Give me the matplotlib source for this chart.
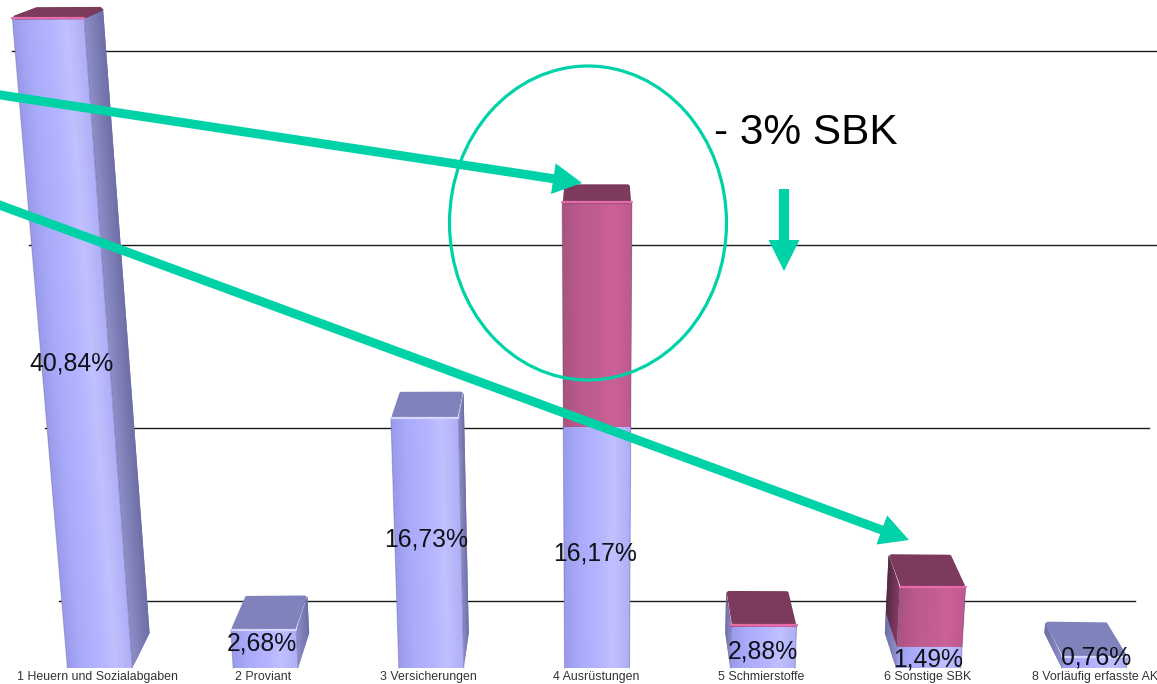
import numpy as np
import matplotlib
matplotlib.use("Agg")
import matplotlib.pyplot as plt
from matplotlib.collections import PolyCollection
from matplotlib.colors import LinearSegmentedColormap
from matplotlib.patches import Ellipse, Polygon

plt.rcParams['font.family'] = ['Liberation Sans', 'DejaVu Sans']

# data
categories = ["1 Heuern und Sozialabgaben", "2 Proviant", "3 Versicherungen", "4 Ausrüstungen",
              "5 Schmierstoffe", "6 Sonstige SBK", "8 Vorläufig erfasste AK"]
blue_values = [40.84, 2.68, 16.73, 16.17, 2.88, 1.49, 0.76]
red_values = [0.08, 0, 0, 13.6, 0.13, 4.05, 0]
value_labels = ["40,84%", "2,68%", "16,73%", "16,17%", "2,88%", "1,49%", "0,76%"]
grid_values = [4.61, 16.1, 27.2, 38.9]

# the chart is not linear, the value axis gets taller towards the top
SCALE_V = [-1.4, 0, 2.88, 16.17, 40.84, 44.0]
SCALE_H = [-20, 0, 41, 241, 649, 700]
WIDTH, HEIGHT = 1157, 684
BASE_Y = 668

# fake perspective of the 3d bars
VANISH_X = 597
SPACING = 165.7
BAR_W = 65
PERSP = 1.6e-4
SHRINK = 0.037
GRID_HALF = 532
CORNER = 3.0

TEAL = "#00D2A8"
blue_cmap = LinearSegmentedColormap.from_list("b", ["#9A9AEC", "#ABABFB", "#B2B2FF", "#C0C0FF", "#AEAEF6"])
red_cmap = LinearSegmentedColormap.from_list("r", ["#A85280", "#BA5A8B", "#C25D90", "#CC6096", "#BC5A8E"])
blue_side = LinearSegmentedColormap.from_list("bs", ["#8E8EC8", "#6E6EA6"])
red_side = LinearSegmentedColormap.from_list("rs", ["#8A3A62", "#4E2A44"])


def to_h(v):
    return np.interp(v, SCALE_V, SCALE_H)


def to_v(h):
    return np.interp(h, SCALE_H, SCALE_V)


def persp_x(x, h):
    return VANISH_X + (x - VANISH_X) * (1 + PERSP * h)


def back_point(x, h):
    depth = 35 - 0.04 * h
    return VANISH_X + (x - VANISH_X) * (1 - SHRINK), h + depth


def strips(ax, p0, p1, p2, p3, cmap, n=28, zorder=3):
    # p0-p1 bottom edge, p3-p2 top edge, filled with a gradient from p0 to p1
    polys, cols = [], []
    for k in range(n):
        # every strip runs under the next one so no seams show
        a, b = k / n, min((k + 2) / n, 1)
        q = []
        for s, e, t in ((p0, p1, a), (p0, p1, b), (p3, p2, b), (p3, p2, a)):
            q.append((s[0] + (e[0] - s[0]) * t, to_v(s[1] + (e[1] - s[1]) * t)))
        polys.append(q)
        cols.append(cmap((k + 0.5) / n))
    coll = PolyCollection(polys, facecolors=cols, edgecolors='none', linewidths=0, zorder=zorder)
    coll.set_snap(False)
    ax.add_collection(coll)


def rounded_face(ax, pts, color, zorder=3):
    # inset the corners and stroke wide with a round join
    pts = np.array(pts, dtype=float)
    mid = pts.mean(axis=0)
    d = mid - pts
    inset = pts + d / np.linalg.norm(d, axis=1, keepdims=True) * CORNER
    p = Polygon([(x, to_v(h)) for x, h in inset], closed=True, facecolor=color, edgecolor=color,
                linewidth=CORNER * 2 * 0.72 * 0.7, joinstyle='round', zorder=zorder)
    p.set_snap(False)
    ax.add_patch(p)


def draw_section(ax, xl, xr, h0, h1, front_cmap, side_cmap):
    fl0, fr0 = (persp_x(xl, h0), h0), (persp_x(xr, h0), h0)
    fl1, fr1 = (persp_x(xl, h1), h1), (persp_x(xr, h1), h1)
    # side face shows towards the middle of the chart
    if (xl + xr) / 2 > VANISH_X + 1:
        strips(ax, fl0, back_point(fl0[0], h0), back_point(fl1[0], h1), fl1, side_cmap, n=8, zorder=2.5)
    elif (xl + xr) / 2 < VANISH_X - 1:
        strips(ax, fr0, back_point(fr0[0], h0), back_point(fr1[0], h1), fr1, side_cmap, n=8, zorder=2.5)
    strips(ax, fl0, fr0, fr1, fl1, front_cmap)
    for p, q in ((fl0, fl1), (fr0, fr1)):
        ax.plot([p[0], q[0]], [to_v(p[1]), to_v(q[1])], color="#45406A", alpha=0.3, lw=0.8, zorder=3.2)


fig = plt.figure(figsize=(WIDTH / 100, HEIGHT / 100), dpi=100)
ax = fig.add_axes([0, 0, 1, 1])
ax.set_yscale('function', functions=(to_h, to_v))
ax.set_xlim(0, WIDTH)
ax.set_ylim(to_v(BASE_Y - HEIGHT), to_v(BASE_Y))
ax.axis('off')

for g in grid_values:
    h = to_h(g)
    ax.plot([persp_x(VANISH_X - GRID_HALF, h), persp_x(VANISH_X + GRID_HALF, h)], [g, g],
            color="#1A1A1A", lw=1.0, zorder=1)

centers = VANISH_X + (np.arange(len(categories)) - 3) * SPACING

for i in range(len(categories)):
    xl, xr = centers[i] - BAR_W / 2, centers[i] + BAR_W / 2
    h_blue = to_h(blue_values[i])
    h_top = to_h(blue_values[i] + red_values[i])
    draw_section(ax, xl, xr, 0, h_blue, blue_cmap, blue_side)
    if red_values[i] > 0:
        draw_section(ax, xl, xr, h_blue, h_top, red_cmap, red_side)
    top_color = "#7C3A5C" if red_values[i] > 0 else "#8082BC"
    edge_color = "#E46CA8" if red_values[i] > 0 else "#D6D6FF"
    tl, tr = persp_x(xl, h_top), persp_x(xr, h_top)
    bl, br = back_point(tl, h_top), back_point(tr, h_top)
    rounded_face(ax, [(tl, h_top), (tr, h_top), (br[0], br[1]), (bl[0], bl[1])], top_color, zorder=3.4)
    ax.plot([tl, tr], [to_v(h_top), to_v(h_top)], color=edge_color, lw=1.6, zorder=3.5, solid_capstyle='round')

# labels sit by eye, not exactly on the bar middle
label_x = [72, 262, 426, 595, 763, 928, 1096]
label_y = [364, 644, 539, 554, 651, 659, 658]
for x, y, txt in zip(label_x, label_y, value_labels):
    ax.text(x, to_v(BASE_Y - y), txt, fontsize=17.8, color="#101018", ha='center', va='center', zorder=5)

tick_x = [97, 263, 428, 596, 761, 928, 1095]
for x, txt in zip(tick_x, categories):
    ax.text(x, to_v(BASE_Y - 677), txt, fontsize=8.95, color="#333333", ha='center', va='center', zorder=5)

# teal markup on top, in plain pixel coordinates
over = fig.add_axes([0, 0, 1, 1])
over.set_xlim(0, WIDTH)
over.set_ylim(HEIGHT, 0)
over.axis('off')
over.patch.set_alpha(0)

over.add_patch(Ellipse((588, 223), 277, 314, fill=False, edgecolor=TEAL, lw=2.3, zorder=6))


def arrow(start, tip, shaft, head_w, head_l):
    over.annotate("", xy=tip, xytext=start, annotation_clip=False, zorder=7,
                  arrowprops=dict(width=shaft * 0.72, headwidth=head_w * 0.72, headlength=head_l * 0.72,
                                  shrink=0, facecolor=TEAL, edgecolor='none'))


arrow((-6, 94), (582, 183), 9, 31, 29)
arrow((-6, 203), (909, 540), 9, 31, 29)
arrow((784, 189), (784, 271), 10, 31, 31)

over.text(714, 144, "- 3% SBK", fontsize=30.5, color="#000000", ha='left', va='baseline', zorder=8)

fig.savefig("out.png", dpi=100)
